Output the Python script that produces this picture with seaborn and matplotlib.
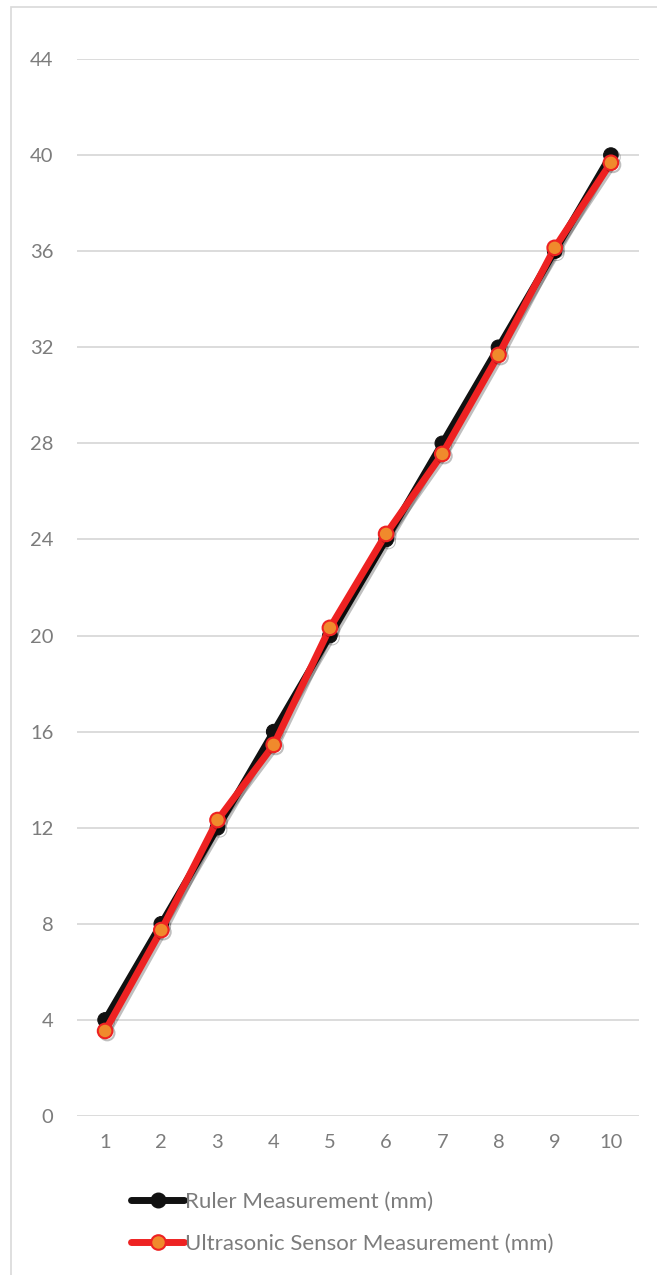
import matplotlib
matplotlib.use("Agg")
import matplotlib.pyplot as plt
import matplotlib.patheffects as pe
from matplotlib.patches import Rectangle
from matplotlib.lines import Line2D
import seaborn as sns
import pandas as pd

# Measurement trials and readings
trials = [1, 2, 3, 4, 5, 6, 7, 8, 9, 10]
ruler_mm = [4, 8, 12, 16, 20, 24, 28, 32, 36, 40]
sensor_mm = [3.54, 7.74, 12.32, 15.45, 20.32, 24.23, 27.56, 31.68, 36.14, 39.68]
y_ticks = [0, 4, 8, 12, 16, 20, 24, 28, 32, 36, 40, 44]
series_names = ["Ruler Measurement (mm)", "Ultrasonic Sensor Measurement (mm)"]

sns.set_theme(style="white")
plt.rcParams["font.family"] = ["Lato", "DejaVu Sans"]

text_gray = "#7c7c7c"
grid_gray = "#d9d9d9"

fig = plt.figure(figsize=(6.57, 12.75), dpi=100)
fig.patch.set_facecolor("white")

# chart frame
fig.add_artist(Rectangle((11 / 657, -0.05), 1.2, 1 - 7 / 1275 + 0.05,
                         transform=fig.transFigure, fill=False,
                         edgecolor=grid_gray, linewidth=1.2))

ax = fig.add_axes([77 / 657, 1 - 1116 / 1275, (639 - 77) / 657, (1116 - 59) / 1275])

df = pd.DataFrame({"trial": trials, "ruler": ruler_mm, "sensor": sensor_mm})

shadow = [pe.SimpleLineShadow(offset=(1.5, -1.5), shadow_color="black", alpha=0.25),
          pe.Normal()]

sns.lineplot(data=df, x="trial", y="ruler", ax=ax, color="#111111", linewidth=5,
             marker="o", markersize=10.5, markerfacecolor="#111111",
             markeredgecolor="#111111", path_effects=shadow, zorder=3)
sns.lineplot(data=df, x="trial", y="sensor", ax=ax, color="#ee2222", linewidth=5,
             marker="o", markersize=10.5, markerfacecolor="#f08a2c",
             markeredgecolor="#ee2222", markeredgewidth=1.5,
             path_effects=shadow, zorder=4)

ax.set_xlim(0.5, 10.5)
ax.set_ylim(0, 44)
ax.set_xticks(trials)
ax.set_yticks(y_ticks)
ax.set_xlabel("")
ax.set_ylabel("")
ax.grid(axis="y", color=grid_gray, linewidth=1.3)
ax.grid(axis="x", visible=False)
ax.set_axisbelow(True)
for s in ax.spines.values():
    s.set_visible(False)
ax.tick_params(axis="both", colors=text_gray, labelsize=14.5, length=0)
ax.tick_params(axis="y", pad=17)
ax.tick_params(axis="x", pad=13)

handles = [
    Line2D([], [], color="#111111", linewidth=5, marker="o", markersize=10.5,
           markerfacecolor="#111111", markeredgecolor="#111111"),
    Line2D([], [], color="#ee2222", linewidth=5, marker="o", markersize=10.5,
           markerfacecolor="#f08a2c", markeredgecolor="#ee2222", markeredgewidth=1.5),
]
leg = fig.legend(handles, series_names, loc="upper left",
                 bbox_to_anchor=(111 / 657, 1 - 1172 / 1275), frameon=False,
                 fontsize=16, labelcolor=text_gray, handlelength=2.4,
                 handletextpad=0.05, labelspacing=1.0, numpoints=1)

fig.savefig("out.png", dpi=100, facecolor="white")
